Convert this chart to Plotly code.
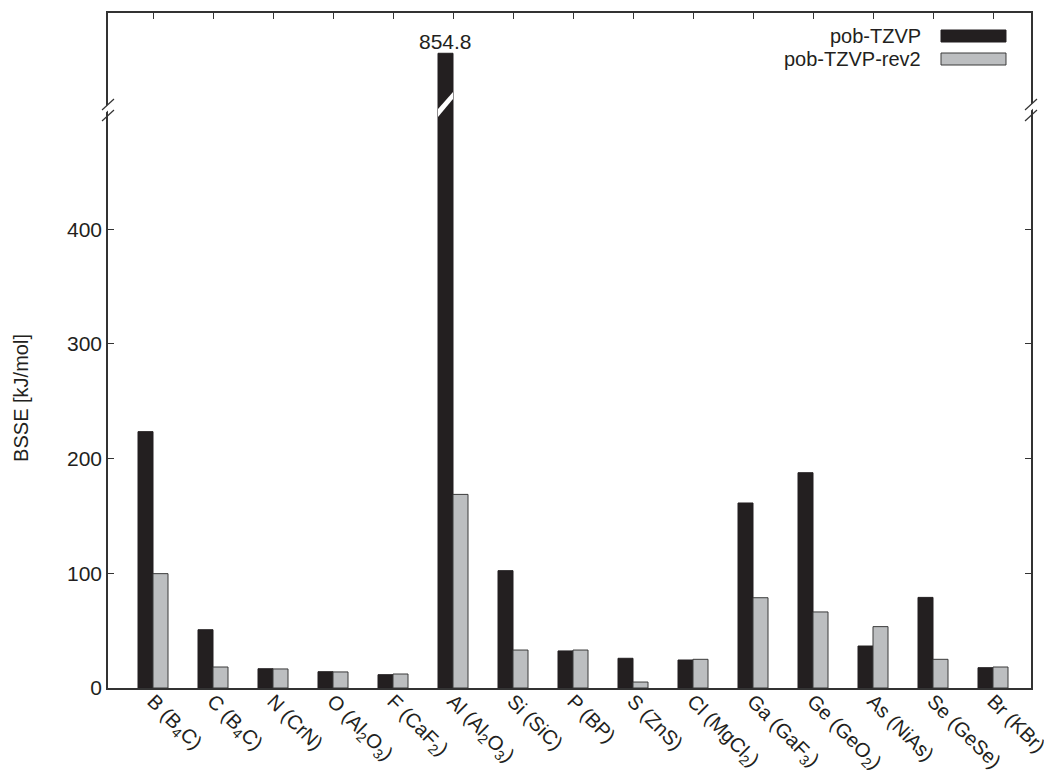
import plotly.graph_objects as go

# ---- data ----
labels = ["B (B<sub>4</sub>C)", "C (B<sub>4</sub>C)", "N (CrN)", "O (Al<sub>2</sub>O<sub>3</sub>)",
          "F (CaF<sub>2</sub>)", "Al (Al<sub>2</sub>O<sub>3</sub>)", "Si (SiC)", "P (BP)", "S (ZnS)",
          "Cl (MgCl<sub>2</sub>)", "Ga (GaF<sub>3</sub>)", "Ge (GeO<sub>2</sub>)", "As (NiAs)",
          "Se (GeSe)", "Br (KBr)"]
pob_tzvp = [223.5, 50.8, 16.8, 14.2, 11.6, 854.8, 102.3, 32.3, 25.9, 24.4, 161.3, 187.7, 36.6, 79.0, 17.7]
pob_tzvp_rev2 = [99.7, 18.3, 16.6, 14.0, 12.2, 168.8, 33.1, 33.1, 5.2, 25.0, 78.7, 66.3, 53.5, 25.0, 18.3]
series_names = ["pob-TZVP", "pob-TZVP-rev2"]
y_ticks = [0, 100, 200, 300, 400]
lower_range = [0, 505.7]
upper_range = [807, 890]

# ---- style ----
FONT = "Liberation Sans, Arial, Helvetica, sans-serif"
BLACK = "#231f20"
GREY = "#bcbec0"
EDGE = "#3a3a3a"
AXC = "#333333"
FS = 21
# the page body has an 8px margin, so the figure is shrunk to fit the 1052x778 window
W, H = 1044, 770
ML, MR, MT, MB = 100, 21, 5, 90
PW, PH = W - ML - MR, H - MT - MB
split = 0.8593  # fraction of plot height where the axis is broken

x = list(range(len(labels)))
fig = go.Figure()
colors = [BLACK, GREY]
for name, vals, col in zip(series_names, [pob_tzvp, pob_tzvp_rev2], colors):
    for xa, ya in (("x", "y"), ("x2", "y2")):
        fig.add_trace(go.Bar(x=x, y=vals, name=name, xaxis=xa, yaxis=ya,
                             marker=dict(color=col, line=dict(color=EDGE if col == GREY else BLACK, width=1)),
                             showlegend=False, hovertemplate="%{y}<extra>" + name + "</extra>"))

xr = [-0.75, len(labels) - 1 + 38 / 60]
fig.update_layout(
    width=W, height=H, margin=dict(l=ML, r=MR, t=MT, b=MB, autoexpand=False),
    paper_bgcolor="white", plot_bgcolor="white",
    font=dict(family=FONT, size=FS, color="#231f20"),
    barmode="group", bargap=0.5, bargroupgap=0,
    xaxis=dict(domain=[0, 1], anchor="y", range=xr, tickmode="array", tickvals=x, ticktext=labels,
               tickangle=45, tickfont=dict(size=20), ticklabelstandoff=-8, ticklabeloverflow="allow",
               showline=True, linecolor=AXC, linewidth=1.5,
               ticks="", showgrid=False, zeroline=False, automargin=False),
    xaxis2=dict(domain=[0, 1], anchor="y2", matches="x", range=xr, side="top", tickmode="array",
                tickvals=x, showticklabels=False, showline=True, linecolor=AXC, linewidth=1.5,
                ticks="inside", ticklen=6, tickcolor=AXC, showgrid=False, zeroline=False,
                automargin=False),
    yaxis=dict(domain=[0, split], anchor="x", range=lower_range, tickmode="array", tickvals=y_ticks,
               tickfont=dict(size=FS), automargin=False,
               showline=True, mirror="ticks", linecolor=AXC, linewidth=1.5, ticks="inside", ticklen=6,
               tickcolor=AXC, showgrid=False, zeroline=False,
               title=dict(text="BSSE [kJ/mol]", standoff=33, font=dict(size=20))),
    yaxis2=dict(domain=[split, 1], anchor="x2", range=upper_range, showline=True, mirror=True,
                linecolor=AXC, linewidth=1.5, showticklabels=False, ticks="", showgrid=False,
                zeroline=False, automargin=False),
)

# value label of the truncated bar
imax = max(range(len(pob_tzvp)), key=lambda i: pob_tzvp[i])
fig.add_annotation(x=imax - 0.125, y=pob_tzvp[imax], xref="x2", yref="y2", text=f"{pob_tzvp[imax]}",
                   showarrow=False, yanchor="bottom", yshift=-2, font=dict(size=FS))

# break marks on the axes (paper coords)
px = 1 / PW
py = 1 / PH
shapes = []
for x0 in (0.0, 1.0):
    shapes.append(dict(type="path", xref="paper", yref="paper",
                       path=f"M {x0-6*px},{split-8*py} L {x0+6*px},{split+3*py} L {x0+6*px},{split+9*py} "
                            f"L {x0-6*px},{split-2*py} Z",
                       fillcolor="white", line=dict(width=0), layer="above"))
    for dy in (-2, 9):
        shapes.append(dict(type="line", xref="paper", yref="paper",
                           x0=x0 - 6 * px, y0=split + (dy - 11) * py,
                           x1=x0 + 6 * px, y1=split + dy * py,
                           line=dict(color=AXC, width=1.2), layer="above"))
# white slash through the truncated bar
bx0 = (imax - 0.25 - xr[0]) / (xr[1] - xr[0])
bx1 = (imax - xr[0]) / (xr[1] - xr[0])
shapes.append(dict(type="path", xref="paper", yref="paper",
                   path=(f"M {bx0},{split-9*py} L {bx1},{split+9*py} "
                         f"L {bx1},{split+16*py} L {bx0},{split-1*py} Z"),
                   fillcolor="white", line=dict(width=0), layer="above"))

# legend (text left of the colour sample)
legend_rows = [((688 - 36) / PH, BLACK, BLACK), ((688 - 59) / PH, GREY, EDGE)]
for (yc, col, lc), name in zip(legend_rows, series_names):
    fig.add_annotation(x=0.883, y=yc, xref="paper", yref="paper", text=name, showarrow=False,
                       xanchor="right", yanchor="middle", font=dict(size=20))
    shapes.append(dict(type="rect", xref="paper", yref="paper", x0=0.9025, x1=0.9729,
                       y0=yc - 6 * py, y1=yc + 6 * py, fillcolor=col, line=dict(color=lc, width=1)))

fig.update_layout(shapes=shapes)
fig.write_html("out.html")
